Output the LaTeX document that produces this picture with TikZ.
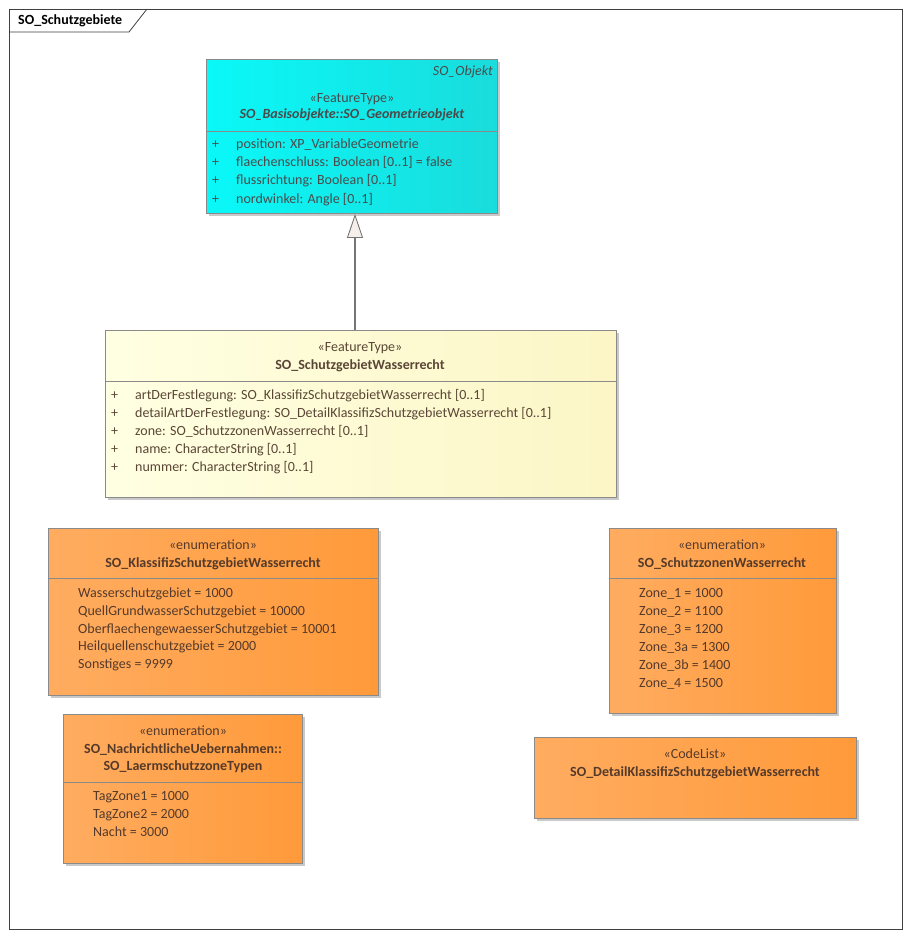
\documentclass[tikz,border=0pt]{standalone}
\usepackage{fontspec}
\setmainfont{Carlito}
\usetikzlibrary{arrows.meta,shadows}
\definecolor{frameC}{HTML}{404040}
\definecolor{boxB}{HTML}{8A8A8A}
\definecolor{cyanL}{HTML}{0AF8F8}
\definecolor{cyanR}{HTML}{1ADCDC}
\definecolor{yelL}{HTML}{FFFFE2}
\definecolor{yelR}{HTML}{FCF6C6}
\definecolor{orgL}{HTML}{FFAC60}
\definecolor{orgR}{HTML}{FF9A3A}
\definecolor{txtC}{HTML}{4A4A4A}
\definecolor{txtY}{HTML}{5A4636}
\definecolor{txtO}{HTML}{553A2A}
\definecolor{triF}{HTML}{F6EEEA}
\newcommand{\fs}{\fontsize{14}{16}\selectfont}
\tikzset{
  umlbox/.style={draw=boxB, line width=0.9pt, inner sep=0pt, anchor=north west,
    drop shadow={shadow xshift=3pt, shadow yshift=-3pt, fill=black!35, opacity=0.6}},
  cybox/.style={umlbox, left color=cyanL, right color=cyanR},
  yebox/.style={umlbox, left color=yelL, right color=yelR},
  orbox/.style={umlbox, left color=orgL, right color=orgR},
  txt/.style={inner sep=0pt, font=\fs},
  lt/.style={txt, anchor=base west},
  ct/.style={txt, anchor=base},
  rt/.style={txt, anchor=base east},
  divl/.style={draw=boxB, line width=0.9pt},
  gen/.style={draw=boxB!85!black, line width=1.1pt,
    -{Triangle[open, fill=triF, length=24pt, width=16pt, line width=0.9pt]}},
}
\begin{document}
\begin{tikzpicture}[x=1pt,y=-1pt]
\useasboundingbox (0,0) rectangle (909,936);
\fill[white] (0,0) rectangle (909,936);
% frame
\node[draw=frameC, line width=0.8pt, minimum width=893pt, minimum height=920pt, anchor=north west, inner sep=0pt] (frame) at (9,9) {};
\draw[frameC, line width=0.8pt] (9,32) -- (129,32) -- (147,9);
\node[txt, anchor=base west, font=\fs\bfseries, text=black] (title) at (18,25) {SO\_Schutzgebiete};

% top box
\node[cybox, minimum width=291pt, minimum height=154pt] (top) at (206,59) {};
\draw[divl] (206,131) -- (497,131);
\begin{scope}[text=txtC]
\node[rt, font=\fs\itshape] (topst) at (493,76) {SO\_Objekt};
\node[ct] (topster) at (352,103) {«FeatureType»};
\node[ct, font=\fs\bfseries\itshape] (topname) at (352,119) {SO\_Basisobjekte::SO\_Geometrieobjekt};
\foreach \y/\t [count=\i] in {149/{position: XP\_VariableGeometrie},167/{flaechenschluss: Boolean [0..1] = false},185/{flussrichtung: Boolean [0..1]},203/{nordwinkel: Angle [0..1]}}{
  \node[lt] (tp\i) at (212,\y) {+};
  \node[lt] (ta\i) at (236,\y) {\t};
}
\end{scope}

% middle box
\node[yebox, minimum width=511pt, minimum height=167pt] (mid) at (105,330) {};
\draw[divl] (105,381) -- (616,381);
\begin{scope}[text=txtY]
\node[ct] (midster) at (360,351) {«FeatureType»};
\node[ct, font=\fs\bfseries] (midname) at (360,369) {SO\_SchutzgebietWasserrecht};
\foreach \y/\t [count=\i] in {399/{artDerFestlegung: SO\_KlassifizSchutzgebietWasserrecht [0..1]},417/{detailArtDerFestlegung: SO\_DetailKlassifizSchutzgebietWasserrecht [0..1]},435/{zone: SO\_SchutzzonenWasserrecht [0..1]},453/{name: CharacterString [0..1]},471/{nummer: CharacterString [0..1]}}{
  \node[lt] (mp\i) at (111,\y) {+};
  \node[lt] (ma\i) at (135,\y) {\t};
}
\end{scope}

% generalization
\coordinate (g) at (355,0);
\draw[gen] (g |- mid.north) -- (g |- top.south);

% enum 1
\node[orbox, minimum width=330pt, minimum height=167pt] (en1) at (48,528) {};
\draw[divl] (48,578) -- (378,578);
\begin{scope}[text=txtO]
\node[ct] (e1s) at (213,549) {«enumeration»};
\node[ct, font=\fs\bfseries] (e1n) at (213,567) {SO\_KlassifizSchutzgebietWasserrecht};
\foreach \y/\t [count=\i] in {597/{Wasserschutzgebiet = 1000},615/{QuellGrundwasserSchutzgebiet = 10000},633/{OberflaechengewaesserSchutzgebiet = 10001},650/{Heilquellenschutzgebiet = 2000},668/{Sonstiges = 9999}}{
  \node[lt] (e1a\i) at (78,\y) {\t};
}
\end{scope}

% enum 2
\node[orbox, minimum width=239pt, minimum height=149pt] (en2) at (63,714) {};
\draw[divl] (63,782) -- (302,782);
\begin{scope}[text=txtO]
\node[ct] (e2s) at (183,735) {«enumeration»};
\node[ct, font=\fs\bfseries] (e2n) at (183,753) {SO\_NachrichtlicheUebernahmen::};
\node[ct, font=\fs\bfseries] (e2m) at (183,770) {SO\_LaermschutzzoneTypen};
\foreach \y/\t [count=\i] in {800/{TagZone1 = 1000},818/{TagZone2 = 2000},836/{Nacht = 3000}}{
  \node[lt] (e2a\i) at (93,\y) {\t};
}
\end{scope}

% enum 3
\node[orbox, minimum width=227pt, minimum height=185pt] (en3) at (609,528) {};
\draw[divl] (609,578) -- (836,578);
\begin{scope}[text=txtO]
\node[ct] (e3s) at (722,549) {«enumeration»};
\node[ct, font=\fs\bfseries] (e3n) at (722,567) {SO\_SchutzzonenWasserrecht};
\foreach \y/\t [count=\i] in {597/{Zone\_1 = 1000},615/{Zone\_2 = 1100},633/{Zone\_3 = 1200},651/{Zone\_3a = 1300},669/{Zone\_3b = 1400},687/{Zone\_4 = 1500}}{
  \node[lt] (e3a\i) at (639,\y) {\t};
}
\end{scope}

% code list
\node[orbox, minimum width=322pt, minimum height=81pt] (cl) at (534,737) {};
\begin{scope}[text=txtO]
\node[ct] (cls) at (695,758) {«CodeList»};
\node[ct, font=\fs\bfseries] (cln) at (695,776) {SO\_DetailKlassifizSchutzgebietWasserrecht};
\end{scope}
\end{tikzpicture}
\end{document}
